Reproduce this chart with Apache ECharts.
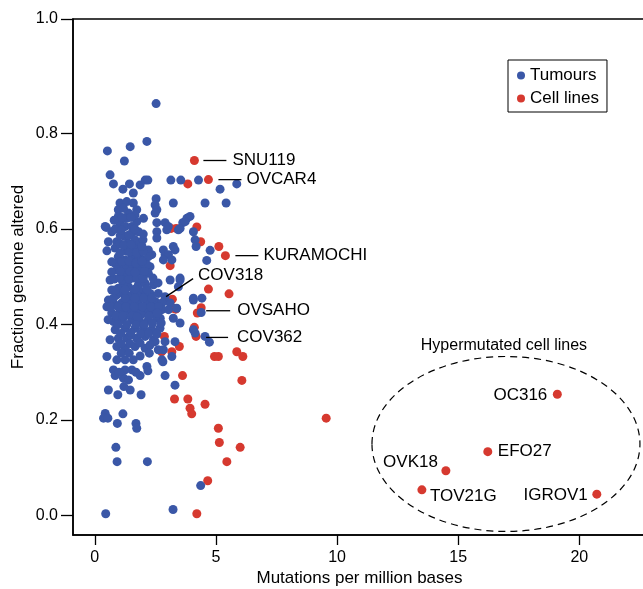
<!DOCTYPE html>
<html><head><meta charset="utf-8">
<script src="https://cdn.jsdelivr.net/npm/echarts@6/dist/echarts.min.js"></script>
<style>html,body{margin:0;padding:0;background:#fff}#c{width:643px;height:589px}</style>
</head><body><div id="c"></div>
<script>
// ---------- data ----------
const xTicks = [0, 5, 10, 15, 20];
const yTicks = [0, 0.2, 0.4, 0.6, 0.8];
const yTopLabel = '1.0';

// Tumours: [mutations per million bases, fraction genome altered]
const tumours = [
[2.53,0.862],[0.52,0.763],[1.46,0.772],[2.15,0.783],[1.22,0.742],
[0.63,0.713],[0.77,0.694],[1.16,0.683],[1.43,0.694],[1.59,0.675],[1.87,0.692],[2.08,0.702],[2.19,0.702],
[3.14,0.702],[3.55,0.702],[4.28,0.702],[5.17,0.683],[5.86,0.694],
[2.53,0.663],[2.49,0.650],[2.56,0.640],[3.24,0.654],[4.55,0.654],[5.42,0.654],
[2.01,0.622],[0.47,0.603],[2.56,0.613],[2.90,0.613],[3.03,0.605],[3.63,0.613],[3.80,0.622],[3.93,0.626],
[3.45,0.598],[4.07,0.594],[4.18,0.563],[4.76,0.555],[4.62,0.534],[0.50,0.554],
[3.24,0.563],[3.31,0.556],[2.83,0.556],[2.90,0.546],[2.35,0.546],[2.28,0.521],
[3.52,0.497],[3.45,0.479],[4.07,0.455],[4.42,0.455],[3.38,0.434],[3.11,0.445],
[4.07,0.389],[4.14,0.382],[4.55,0.375],[4.39,0.425],[4.73,0.363],
[1.04,0.654],[1.32,0.657],[1.59,0.654],[1.73,0.640],[0.97,0.640],[0.97,0.626],[1.04,0.612],[1.25,0.605],[1.53,0.605],[1.73,0.615],[1.66,0.629],[1.39,0.633],[1.32,0.622],[1.18,0.643],
[0.43,0.605],[0.70,0.594],[0.56,0.573],[0.91,0.573],[0.84,0.560],[0.97,0.542],[0.84,0.528],[1.11,0.521],
[1.25,0.584],[1.53,0.591],[1.80,0.594],[1.66,0.577],[1.39,0.570],[1.80,0.567],[1.59,0.560],[1.32,0.553],[1.87,0.549],[1.53,0.542],[1.25,0.535],[1.80,0.535],[2.08,0.535],[1.59,0.524],[1.32,0.518],[1.87,0.518],[2.21,0.556],
[2.49,0.633],[2.56,0.594],[2.56,0.581],[2.97,0.598],[3.52,0.601],[3.73,0.615],[4.14,0.577],[3.04,0.546],[2.21,0.542],[2.08,0.524],[2.83,0.535],[3.18,0.535],
[1.11,0.532],[1.53,0.528],[2.15,0.525],[0.91,0.514],[1.25,0.507],[1.87,0.511],[2.21,0.507],[3.11,0.493],[3.52,0.493],
[0.70,0.472],[0.97,0.476],[1.39,0.479],[1.80,0.483],[2.08,0.486],[2.42,0.483],
[0.56,0.451],[0.91,0.462],[1.18,0.465],[1.59,0.465],[1.94,0.469],[2.28,0.465],[2.62,0.465],[2.90,0.458],
[0.50,0.437],[0.84,0.441],[1.11,0.445],[1.46,0.448],[1.80,0.448],[2.15,0.448],[2.49,0.448],[2.77,0.445],
[0.70,0.424],[1.04,0.427],[1.39,0.427],[1.73,0.431],[2.08,0.431],[2.42,0.427],[2.77,0.431],
[0.77,0.406],[1.11,0.410],[1.53,0.410],[1.87,0.406],[2.21,0.410],[2.56,0.413],
[0.84,0.389],[1.25,0.392],[1.66,0.392],[2.01,0.392],[2.35,0.389],[2.69,0.392],
[0.97,0.371],[1.32,0.371],[1.73,0.371],[2.08,0.375],[2.42,0.368],
[0.91,0.354],[1.25,0.350],[1.66,0.354],[2.08,0.350],[2.49,0.364],
[0.50,0.333],[0.91,0.326],[1.25,0.326],[1.59,0.326],[2.15,0.312],
[3.04,0.431],[3.24,0.413],[3.52,0.403],[4.07,0.451],
[2.90,0.364],[3.31,0.364],[2.83,0.347],[3.18,0.333],[2.62,0.347],[2.77,0.326],
[0.77,0.305],[0.84,0.293],[1.18,0.288],[1.39,0.284],[1.53,0.305],[1.25,0.305],[1.87,0.293],[2.19,0.303],[2.90,0.293],[2.81,0.322],[3.31,0.273],
[0.56,0.263],[0.95,0.253],[1.46,0.263],[1.91,0.253],
[0.43,0.214],[0.36,0.204],[0.54,0.204],[1.16,0.213],[0.93,0.193],[1.70,0.193],[1.73,0.183],
[0.87,0.143],[0.92,0.113],[2.17,0.113],[4.37,0.063],[3.23,0.013],[0.45,0.004],
[0.63,0.493],[0.55,0.410],[0.63,0.368],[1.58,0.497],[1.17,0.487],[1.33,0.460],[1.75,0.460],[2.12,0.464],[1.25,0.418],[1.58,0.420],[1.91,0.420],[2.24,0.418],[1.46,0.378],[1.87,0.361],[1.09,0.340],[1.42,0.340],[1.87,0.334],[2.28,0.357],[1.04,0.569],[1.99,0.577],[1.13,0.493],[2.61,0.487],[2.70,0.413],
[0.77,0.455],[1.25,0.455],[1.66,0.455],[2.01,0.455],[2.35,0.455],
[0.67,0.437],[0.97,0.437],[1.29,0.437],[1.63,0.437],[1.97,0.437],[2.32,0.437],[2.63,0.437],
[0.88,0.418],[1.15,0.418],[1.75,0.416],[2.58,0.424],
[0.95,0.400],[1.32,0.400],[1.70,0.400],[2.04,0.400],[2.38,0.402],[2.74,0.403],
[1.08,0.381],[1.49,0.383],[1.90,0.381],[2.22,0.381],[2.56,0.380],
[1.08,0.360],[1.45,0.360],[2.25,0.340],
[0.84,0.472],[1.25,0.472],[1.66,0.474],[2.15,0.474],
[0.80,0.495],[1.02,0.497],[1.42,0.495],[1.72,0.497],[2.00,0.497],[2.40,0.497],
[0.70,0.510],[1.05,0.511],[1.45,0.511],[1.66,0.509],[2.05,0.511],
[0.70,0.531],[1.42,0.532],[1.70,0.528],[1.95,0.532],
[1.05,0.550],[1.45,0.552],[1.72,0.550],[2.00,0.553],
[1.18,0.566],[1.50,0.567],[1.95,0.563],
[1.05,0.586],[1.40,0.587],[2.00,0.589],
[0.85,0.600],[1.10,0.598],[1.65,0.600],
[1.12,0.624],[1.50,0.624],[0.80,0.618],
[1.00,0.300],[1.70,0.300],[1.20,0.270]
];

// Cell lines without a label
const cellLines = [
[3.84,0.694],[3.36,0.601],[3.15,0.601],[4.21,0.604],[4.37,0.573],[5.12,0.563],[3.11,0.523],[4.69,0.474],[5.54,0.464],
[3.24,0.434],[3.34,0.432],[4.23,0.424],[4.11,0.394],[2.87,0.375],[2.76,0.343],[3.18,0.343],[3.49,0.354],[4.94,0.333],
[5.10,0.333],[5.86,0.343],[6.11,0.333],[3.62,0.293],[6.07,0.283],[3.29,0.244],[3.84,0.244],[3.93,0.225],[4.00,0.213],
[4.55,0.233],[5.10,0.183],[5.14,0.153],[6.00,0.143],[5.45,0.113],[4.66,0.073],[4.21,0.004],[9.55,0.204],[3.20,0.453]
];

// Labelled cell lines: [name, mutations, fraction]
const namedCellLines = [
['SNU119',4.11,0.743],['OVCAR4',4.69,0.703],['KURAMOCHI',5.39,0.544],['COV318',2.90,0.452],
['OVSAHO',4.39,0.435],['COV362',4.18,0.375],['OC316',19.09,0.254],['EFO27',16.22,0.134],
['OVK18',14.49,0.094],['TOV21G',13.50,0.054],['IGROV1',20.72,0.045]
];

const hyperTitle = 'Hypermutated cell lines';
const hyperEllipse = [16.97, 0.150, 5.53, 0.183]; // centre x, centre y, radius x, radius y (data units)

// ---------- styles (pixel offsets of annotation labels) ----------
const labelLayout = {
  SNU119:{line:[9,0,32,0], text:[38,0,'left']},
  OVCAR4:{line:[10,0,33,0], text:[38,0,'left']},
  KURAMOCHI:{line:[10,0,33,0], text:[38,0,'left']},
  COV318:{line:[1,-3,28,-21], text:[33,-24,'left']},
  OVSAHO:{line:[5,3,29,3], text:[36,3,'left']},
  COV362:{line:[10,1,32,1], text:[41,1,'left']},
  OC316:{text:[-10,1,'right']},
  EFO27:{text:[10,0,'left']},
  OVK18:{text:[-8,-8,'right']},
  TOV21G:{text:[8,6,'left']},
  IGROV1:{text:[-9,1,'right']}
};
const FONT = '"Liberation Sans", Arial, Helvetica, sans-serif';
const BLUE = '#3a57a7';
const RED = '#d6392f';
const yTopValue = 1.039;

const chart = echarts.init(document.getElementById('c'), null, {renderer:'canvas'});
chart.setOption({
  animation:false,
  backgroundColor:'#fff',
  grid:{left:73, top:19, right:-3, bottom:54, show:true, borderColor:'#000', borderWidth:1.5, backgroundColor:'transparent', outerBoundsMode:'none', containLabel:false},
  legend:{
    data:['Tumours','Cell lines'], orient:'vertical', left:508, top:60,
    padding:[7,8,5,9], itemGap:6, itemWidth:8, itemHeight:8, icon:'circle',
    borderColor:'#000', borderWidth:1,
    textStyle:{fontSize:17, fontFamily:FONT, color:'#000'}
  },
  xAxis:{
    type:'value', min:-0.9, max:22.75,
    axisLine:{show:true, onZero:false, lineStyle:{color:'#000', width:1.5}},
    axisTick:{show:true, length:10, customValues:xTicks, lineStyle:{color:'#000', width:1.3}},
    axisLabel:{customValues:xTicks, margin:15, fontSize:16, fontFamily:FONT, color:'#000'},
    splitLine:{show:false},
    name:'Mutations per million bases', nameLocation:'middle', nameGap:35, nameMoveOverlap:false,
    nameTextStyle:{fontSize:17, fontFamily:FONT, color:'#000'}
  },
  yAxis:{
    type:'value', min:-0.0404, max:yTopValue,
    axisLine:{show:true, onZero:false, lineStyle:{color:'#000', width:1.5}},
    axisTick:{show:true, length:12, customValues:yTicks.concat([yTopValue]), lineStyle:{color:'#000', width:1.3}},
    axisLabel:{customValues:yTicks.concat([yTopValue]), margin:15, fontSize:16, fontFamily:FONT, color:'#000',
      formatter:v => v > 0.95 ? yTopLabel : v.toFixed(1)},
    splitLine:{show:false},
    name:'Fraction genome altered', nameLocation:'middle', nameGap:46, nameMoveOverlap:false,
    nameTextStyle:{fontSize:17, fontFamily:FONT, color:'#000'}
  },
  series:[
    {name:'Cell lines', type:'scatter', symbolSize:9, itemStyle:{color:RED, opacity:1},
     data: cellLines.concat(namedCellLines.map(d => [d[1], d[2]]))},
    {name:'Tumours', type:'scatter', symbolSize:9, itemStyle:{color:BLUE, opacity:1}, data: tumours},
    {name:'labels', type:'custom', silent:true, clip:false, z:5,
     data: namedCellLines.map(d => [d[1], d[2]]),
     renderItem:function(params, api){
       const name = namedCellLines[params.dataIndex][0];
       const p = api.coord([api.value(0), api.value(1)]);
       const s = labelLayout[name];
       const children = [];
       if (s.line) children.push({type:'line', shape:{x1:p[0]+s.line[0], y1:p[1]+s.line[1], x2:p[0]+s.line[2], y2:p[1]+s.line[3]}, style:{stroke:'#000', lineWidth:1.3}});
       children.push({type:'text', x:p[0]+s.text[0], y:p[1]+s.text[1], style:{text:name, align:s.text[2], verticalAlign:'middle', fontSize:17, fontFamily:FONT, fill:'#000'}});
       return {type:'group', children};
     }},
    {name:'hyper', type:'custom', silent:true, clip:false, z:1,
     data:[hyperEllipse],
     renderItem:function(params, api){
       const c = api.coord([api.value(0), api.value(1)]);
       const sz = api.size([api.value(2), api.value(3)]);
       return {type:'group', children:[
         {type:'ellipse', shape:{cx:c[0], cy:c[1], rx:sz[0], ry:sz[1]}, style:{fill:null, stroke:'#000', lineWidth:1.2, lineDash:[7,5]}},
         {type:'text', x:c[0]-2, y:c[1]-sz[1]-11, style:{text:hyperTitle, align:'center', verticalAlign:'middle', fontSize:16, fontFamily:FONT, fill:'#000'}}
       ]};
     }}
  ]
});
</script></body></html>
